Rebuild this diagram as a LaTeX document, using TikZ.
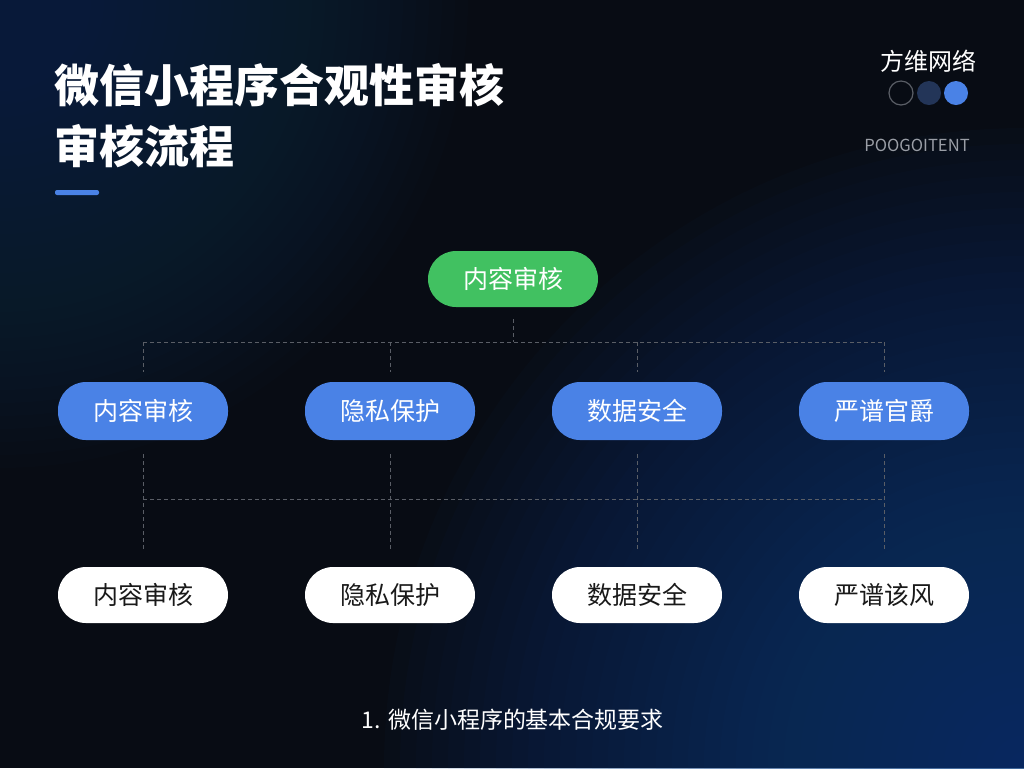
\documentclass[tikz,border=0pt]{standalone}
\usepackage{fontspec}
\setmainfont{Noto Sans CJK SC}
\usetikzlibrary{positioning}
\definecolor{bgdark}{HTML}{080C14}
\definecolor{glowtl}{HTML}{1C3050}
\definecolor{glowbr}{HTML}{0E4080}
\definecolor{pillgreen}{HTML}{41C161}
\definecolor{pillblue}{HTML}{4A82E6}
\definecolor{dotmid}{HTML}{233558}
\definecolor{linkgray}{HTML}{5A5E66}
\definecolor{codegray}{HTML}{9A9EA6}

\begin{document}
\begin{tikzpicture}[x=0.5pt, y=-0.5pt,
  pill/.style = {rectangle, rounded corners=14pt, minimum width=85pt, minimum height=29pt, inner sep=0pt, font=\fontsize{12.5}{14}\selectfont},
  greenpill/.style = {pill, fill=pillgreen, text=white, minimum height=28pt},
  bluepill/.style = {pill, fill=pillblue, text=white},
  whitepill/.style = {pill, fill=white, text=black!90, minimum height=28pt},
  link/.style = {draw=linkgray, line width=0.5pt, dash pattern=on 2pt off 1.5pt}]
\useasboundingbox (0,0) rectangle (1024,768);
\fill[bgdark] (0,0) rectangle (1024,768);
\begin{scope}
\clip (0,0) rectangle (1024,768);
\foreach \r in {1,...,36}
  \fill[glowtl, fill opacity=0.045] (0,0) circle[radius=\r*6.5pt];
\foreach \r in {1,...,40}
  \fill[glowbr, fill opacity=0.04] (1024,768) circle[radius=\r*8pt];
\end{scope}

\node[anchor=west, text=white, font=\fontsize{22.5}{26}\selectfont\bfseries] (title1) at (47,85) {微信小程序合观性审核};
\node[anchor=west, text=white, font=\fontsize{22.5}{26}\selectfont\bfseries] (title2) at (47,146) {审核流程};
\fill[pillblue, rounded corners=1pt] (55,190) rectangle (99,195);

\node[text=white, font=\fontsize{12}{14}\selectfont] (brand) at (928,61) {方维网络};
\filldraw[fill=bgdark, draw=linkgray, line width=0.6pt] (901,93) circle[radius=6pt];
\fill[dotmid] (929,93) circle[radius=6pt];
\fill[pillblue] (956,93) circle[radius=6pt];
\node[text=codegray, font=\fontsize{8.3}{10}\selectfont] (code) at (917,145) {POOGOITENT};

\node[greenpill] (top) at (513,279) {内容审核};
\foreach \i/\x/\lbl/\lblw in {1/143/内容审核/内容审核, 2/390/隐私保护/隐私保护, 3/637/数据安全/数据安全, 4/884/严谱官爵/严谱该风} {
  \node[bluepill] (b\i) at (\x,411) {\lbl};
  \node[whitepill] (w\i) at (\x,595) {\lblw};
}
\coordinate (busTop) at (513,342);
\coordinate (busMid) at (513,499);

\draw[link, shorten <=6pt] (top) -- (busTop);
\draw[link] (b1.north |- busTop) -- (b4.north |- busTop);
\draw[link] (b1.south |- busMid) -- (b4.south |- busMid);
\foreach \i in {1,...,4} {
  \draw[link, shorten >=5pt] (b\i.north |- busTop) -- (b\i.north);
  \draw[link, shorten <=7pt, shorten >=8pt] (b\i.south) -- (w\i.north);
}

\node[text=white, font=\fontsize{11.5}{14}\selectfont] (caption) at (513,720) {1. 微信小程序的基本合规要求};
\end{tikzpicture}
\end{document}
